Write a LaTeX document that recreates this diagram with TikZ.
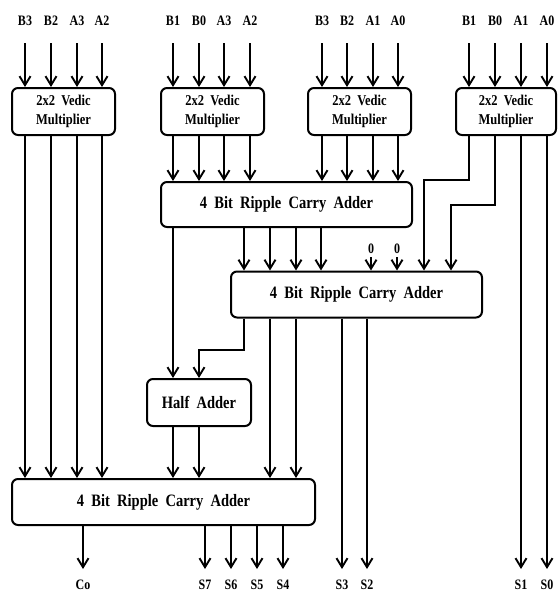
\documentclass[tikz,border=0pt]{standalone}
\usepackage{fontspec}
\usepackage{graphicx}
\setmainfont{Liberation Serif}[WordSpace=2]
\usetikzlibrary{arrows.meta}
\newcommand\tallt[1]{\scalebox{1}[1.2]{#1}}
\begin{document}
\begin{tikzpicture}[x=1pt,y=-1pt,
  wire/.style={line width=1.9pt},
  arr/.style={wire,-{Straight Barb[length=9pt,width=11pt]}},
  blk/.style={draw,line width=2pt,rounded corners=6pt,inner sep=0pt,align=center},
  lbl/.style={inner sep=0pt,anchor=base,font=\fontsize{12}{14}\selectfont\bfseries},
  vm/.style={blk,minimum width=103pt,minimum height=47pt,font=\fontsize{12.5}{19}\selectfont\bfseries},
  big/.style={blk,font=\fontsize{14.5}{17}\selectfont\bfseries}]
\useasboundingbox (0,0) rectangle (558,592);

% blocks
\node[vm] (vm1) at (63.5,111.5) {\tallt{2x2 Vedic}\\\tallt{Multiplier}};
\node[vm] (vm2) at (212.5,111.5) {\tallt{2x2 Vedic}\\\tallt{Multiplier}};
\node[vm] (vm3) at (359.5,111.5) {\tallt{2x2 Vedic}\\\tallt{Multiplier}};
\node[vm,minimum width=100pt] (vm4) at (506,111.5) {\tallt{2x2 Vedic}\\\tallt{Multiplier}};
\node[big,minimum width=251pt,minimum height=45pt] (rca1) at (286.5,204.5) {\tallt{4 Bit Ripple Carry Adder}};
\node[big,minimum width=251pt,minimum height=46pt] (rca2) at (356.5,294.5) {\tallt{4 Bit Ripple Carry Adder}};
\node[big,minimum width=104pt,minimum height=47pt] (ha) at (199,402.5) {\tallt{Half Adder}};
\node[big,minimum width=303pt,minimum height=46pt] (rca3) at (163.5,502) {\tallt{4 Bit Ripple Carry Adder}};

% top inputs
\foreach \x/\t/\n/\b in {25/B3/ia1/vm1,51/B2/ia2/vm1,77/A3/ia3/vm1,102/A2/ia4/vm1,
  173/B1/ib1/vm2,199/B0/ib2/vm2,224/A3/ib3/vm2,250/A2/ib4/vm2,
  322/B3/ic1/vm3,347/B2/ic2/vm3,373/A1/ic3/vm3,398/A0/ic4/vm3,
  469/B1/id1/vm4,495/B0/id2/vm4,521/A1/id3/vm4,547/A0/id4/vm4}{
  \node[lbl] (\n) at (\x,25) {\tallt{\t}};
  \draw[arr] ([yshift=-18pt]\n.base) -- (\b.north -| \n.base);
}

% VM1 outputs to final adder
\foreach \x in {25,51,77,102}
  \draw[arr] (vm1.south -| \x,0) -- (rca3.north -| \x,0);
% VM2, VM3 outputs to RCA1
\foreach \x in {173,199,224,250,322,347,373,398}
  \draw[arr] (vm2.south -| \x,0) -- (rca1.north -| \x,0);

% VM4 outputs
\coordinate (k1) at (424,180);
\coordinate (k2) at (451,205);
\draw[arr] (vm4.south -| 469,0) |- (k1) -- (rca2.north -| k1);
\draw[arr] (vm4.south -| 495,0) |- (k2) -- (rca2.north -| k2);

% zero inputs
\node[lbl] (z1) at (371,253) {\tallt{0}};
\node[lbl] (z2) at (397,253) {\tallt{0}};
\draw[arr] ([yshift=-4pt]z1.base) -- (rca2.north -| z1.base);
\draw[arr] ([yshift=-4pt]z2.base) -- (rca2.north -| z2.base);

% RCA1 outputs
\draw[arr] (rca1.south -| 173,0) -- (ha.north -| 173,0);
\foreach \x in {244,270,296,321}
  \draw[arr] (rca1.south -| \x,0) -- (rca2.north -| \x,0);

% RCA2 outputs
\coordinate (k3) at (199,350);
\draw[arr] (rca2.south -| 244,0) |- (k3) -- (ha.north -| k3);
\foreach \x in {270,296}
  \draw[arr] (rca2.south -| \x,0) -- (rca3.north -| \x,0);

% HA outputs
\foreach \x in {173,199}
  \draw[arr] (ha.south -| \x,0) -- (rca3.north -| \x,0);

% outputs
\foreach \x/\t/\n/\b in {83/Co/oco/rca3,205/S7/o7/rca3,231/S6/o6/rca3,257/S5/o5/rca3,283/S4/o4/rca3,
  342/S3/o3/rca2,367/S2/o2/rca2,521/S1/o1/vm4,547/S0/o0/vm4}{
  \node[lbl] (\n) at (\x,589) {\tallt{\t}};
  \draw[arr] (\b.south -| \n.base) -- ([yshift=20pt]\n.base);
}
\end{tikzpicture}
\end{document}
